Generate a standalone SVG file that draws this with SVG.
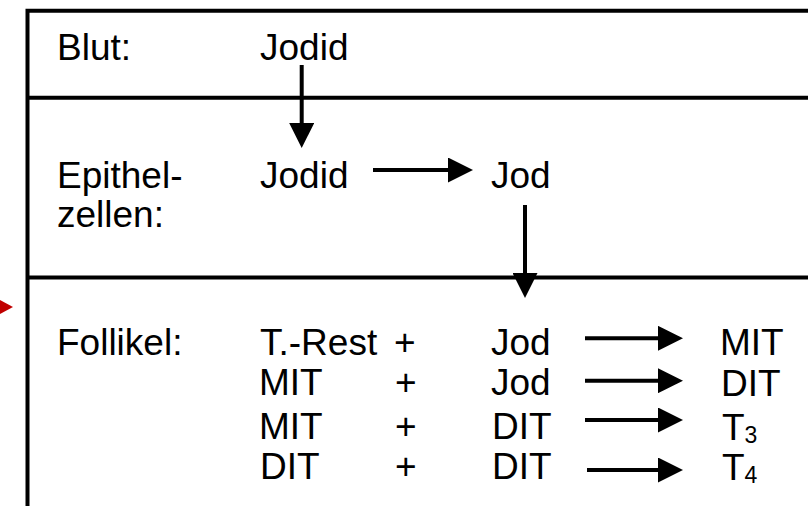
<svg xmlns="http://www.w3.org/2000/svg" width="808" height="506" viewBox="0 0 808 506">
<style>
text{font-family:"Liberation Sans",Arial,sans-serif;font-size:37px;fill:#000}
.sub{font-size:23px}
.frame{stroke:#000;stroke-width:4;fill:none}
.conn{stroke:#000;stroke-width:4;fill:none}
</style>
<defs>
<marker id="ah" markerUnits="userSpaceOnUse" markerWidth="26" markerHeight="25" refX="1" refY="12.5" orient="auto" viewBox="0 0 26 25">
<path d="M0,0 L25,12.5 L0,25 z" fill="#000"/>
</marker>
</defs>
<rect width="808" height="506" fill="#fff"/>
<g id="frame">
<path class="frame" d="M27.5,506 L27.5,10.7 L808,10.7"/>
<line class="frame" x1="27.5" y1="97.8" x2="808" y2="97.8"/>
<line class="frame" x1="27.5" y1="277.5" x2="808" y2="277.5"/>
</g>
<polygon id="pointer" points="0,300 13,307 0,314" fill="#c00000"/>
<g id="row-blut">
<text x="57" y="60">Blut:</text>
<text id="jodid-blut" x="260" y="60">Jodid</text>
</g>
<g id="row-epithel">
<text x="57" y="188">Epithel-</text>
<text x="57" y="227">zellen:</text>
<text id="jodid-epi" x="260" y="188">Jodid</text>
<text id="jod-epi" x="491" y="188">Jod</text>
</g>
<g id="row-follikel">
<text x="57" y="355">Follikel:</text>
<text x="260" y="355">T.-Rest</text>
<text x="394" y="355">+</text>
<text x="491" y="355">Jod</text>
<text x="720" y="355">MIT</text>
<text x="259" y="395">MIT</text>
<text x="395" y="395">+</text>
<text x="491" y="395">Jod</text>
<text x="721" y="396">DIT</text>
<text x="259" y="439">MIT</text>
<text x="395" y="439">+</text>
<text x="492" y="439">DIT</text>
<text x="722" y="440">T<tspan class="sub" dy="3">3</tspan></text>
<text x="260" y="479">DIT</text>
<text x="395" y="479">+</text>
<text x="492" y="479">DIT</text>
<text x="722" y="480">T<tspan class="sub" dy="3">4</tspan></text>
</g>
<g id="connectors">
<line class="conn" x1="301.7" y1="65" x2="301.7" y2="124" marker-end="url(#ah)"/>
<line class="conn" x1="373" y1="170" x2="449" y2="170" marker-end="url(#ah)"/>
<line class="conn" x1="525" y1="205" x2="525" y2="274" marker-end="url(#ah)"/>
<line class="conn" x1="585" y1="338.3" x2="659" y2="338.3" marker-end="url(#ah)"/>
<line class="conn" x1="585" y1="380.7" x2="659" y2="380.7" marker-end="url(#ah)"/>
<line class="conn" x1="585" y1="420" x2="659" y2="420" marker-end="url(#ah)"/>
<line class="conn" x1="587" y1="470" x2="659" y2="470" marker-end="url(#ah)"/>
</g>
</svg>
